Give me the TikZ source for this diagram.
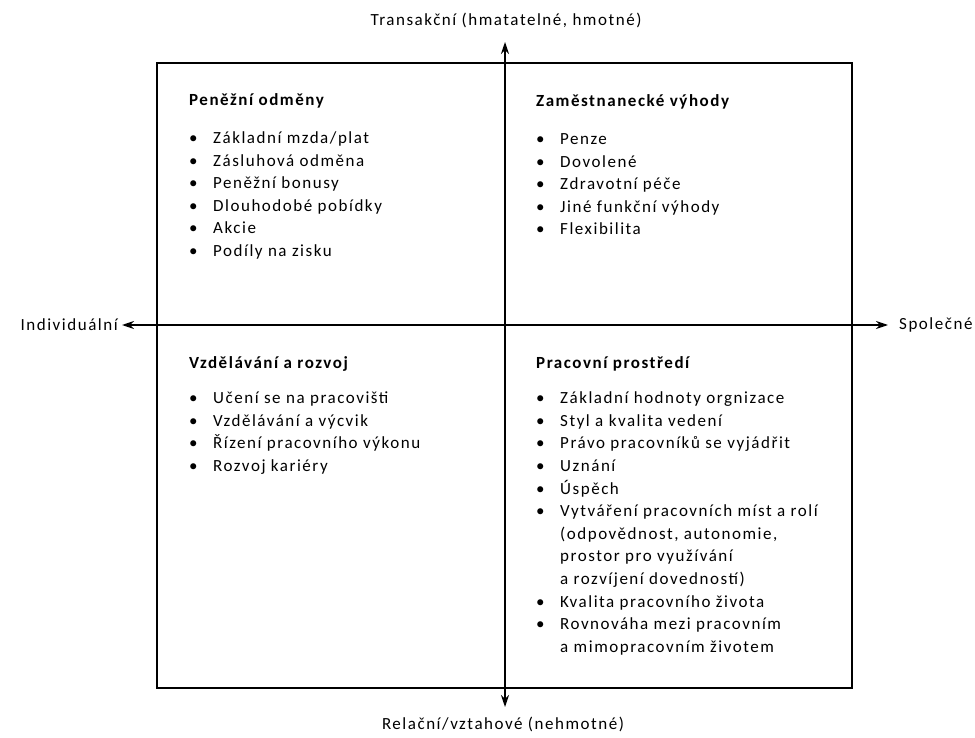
\documentclass[tikz,border=0pt]{standalone}
\usepackage{fontspec}
\setmainfont{Carlito}[LetterSpace=9]
\usetikzlibrary{arrows.meta}
\newcommand{\bod}{\textbullet}
\tikzset{
  osa/.style={line width=1.4pt, {Stealth[length=12pt,width=8pt]}-{Stealth[length=12pt,width=8pt]}},
  ramec/.style={line width=1.2pt},
  popis/.style={font=\fontsize{17}{20}\selectfont, inner sep=0pt},
  kvadrant/.style={font=\fontsize{17}{22.6}\selectfont, inner sep=0pt, anchor=base west}
}
\begin{document}
\begin{tikzpicture}[x=1pt,y=-1pt]
  \useasboundingbox (0,0) rectangle (975,738);
  \draw[ramec] (157,63) rectangle (852,688);

  \coordinate (T) at (505,42);
  \coordinate (B) at (505,707);
  \coordinate (L) at (122,325);
  \coordinate (R) at (888,325);
  \path[osa] (T) edge (B);
  \path[osa] (L) edge (R);

  \node[popis] (tran) at (506,20) {Transakční (hmatatelné, hmotné)};
  \node[popis] (rel) at (503,724) {Relační/vztahové (nehmotné)};
  \node[popis, anchor=east] (indiv) at (118,325) {Individuální};
  \node[popis, anchor=west] (spol) at (899,325) {Společné};

  \node[kvadrant] (penezni) at (189,106) {\begin{tabular}[t]{@{}p{24pt}@{}l@{}}
    \multicolumn{2}{@{}l@{}}{\textbf{Peněžní odměny}}\\[15pt]
    \bod & Základní mzda/plat\\
    \bod & Zásluhová odměna\\
    \bod & Peněžní bonusy\\
    \bod & Dlouhodobé pobídky\\
    \bod & Akcie\\
    \bod & Podíly na zisku
  \end{tabular}};
  \node[kvadrant] (vyhody) at (536,107) {\begin{tabular}[t]{@{}p{24pt}@{}l@{}}
    \multicolumn{2}{@{}l@{}}{\textbf{Zaměstnanecké výhody}}\\[15pt]
    \bod & Penze\\
    \bod & Dovolené\\
    \bod & Zdravotní péče\\
    \bod & Jiné funkční výhody\\
    \bod & Flexibilita
  \end{tabular}};
  \node[kvadrant] (rozvoj) at (189,368) {\begin{tabular}[t]{@{}p{24pt}@{}l@{}}
    \multicolumn{2}{@{}l@{}}{\textbf{Vzdělávání a rozvoj}}\\[13pt]
    \bod & Učení se na pracovišti\\
    \bod & Vzdělávání a výcvik\\
    \bod & Řízení pracovního výkonu\\
    \bod & Rozvoj kariéry
  \end{tabular}};
  \node[kvadrant] (prostredi) at (536,368) {\begin{tabular}[t]{@{}p{24pt}@{}l@{}}
    \multicolumn{2}{@{}l@{}}{\textbf{Pracovní prostředí}}\\[13pt]
    \bod & Základní hodnoty orgnizace\\
    \bod & Styl a kvalita vedení\\
    \bod & Právo pracovníků se vyjádřit\\
    \bod & Uznání\\
    \bod & Úspěch\\
    \bod & Vytváření pracovních míst a rolí\\
         & (odpovědnost, autonomie,\\
         & prostor pro využívání\\
         & a rozvíjení dovedností)\\
    \bod & Kvalita pracovního života\\
    \bod & Rovnováha mezi pracovním\\
         & a mimopracovním životem
  \end{tabular}};
\end{tikzpicture}
\end{document}
